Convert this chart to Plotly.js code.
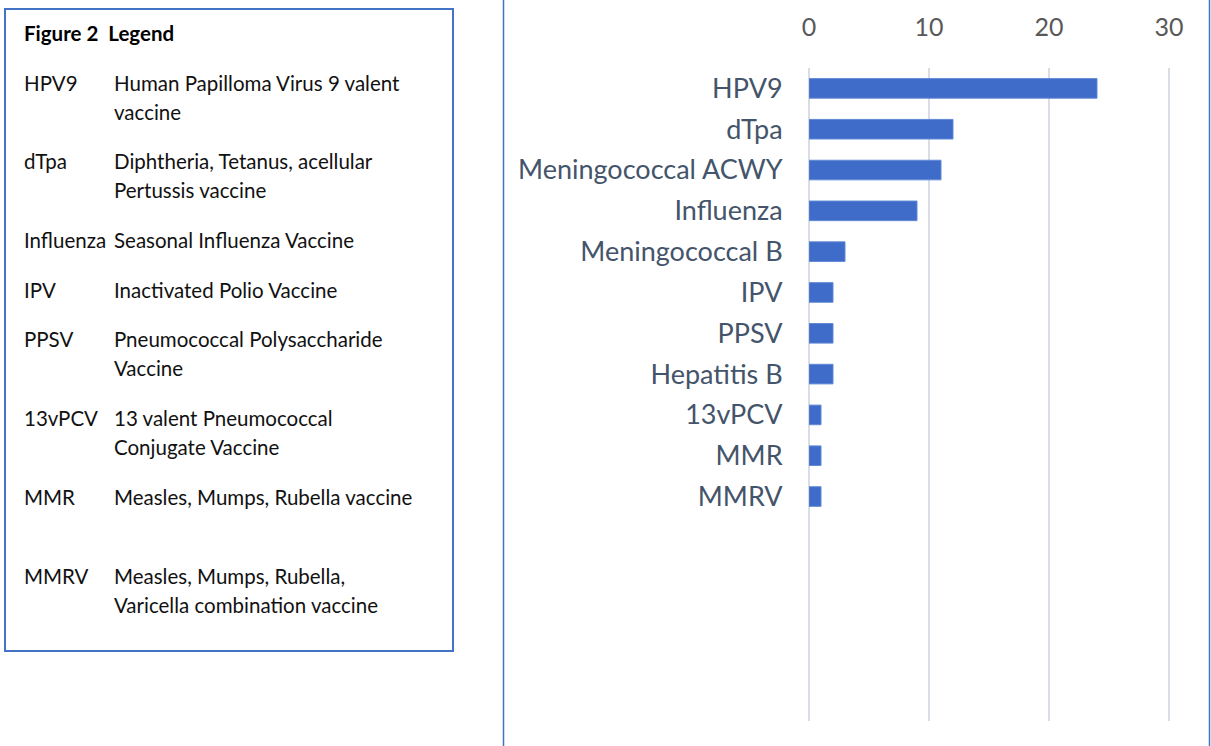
<!DOCTYPE html>
<html>
<head>
<meta charset="utf-8">
<script src="https://cdn.plot.ly/plotly-3.0.1.min.js"></script>
<style>
html,body{margin:0;padding:0;background:#fff;}
#chart{width:1211px;height:746px;}
</style>
</head>
<body>
<div id="chart"></div>
<script>
// ---- data ----
var vaccines = ["HPV9","dTpa","Meningococcal ACWY","Influenza","Meningococcal B","IPV","PPSV","Hepatitis B","13vPCV","MMR","MMRV"];
var counts = [24, 12, 11, 9, 3, 2, 2, 2, 1, 1, 1];
var xTicks = [0, 10, 20, 30];
var legendTitle = "Figure 2  Legend";
var legendAbbr = ["HPV9","dTpa","Influenza","IPV","PPSV","13vPCV","MMR","MMRV"];
var legendDesc = [
  ["Human Papilloma Virus 9 valent","vaccine"],
  ["Diphtheria, Tetanus, acellular","Pertussis vaccine"],
  ["Seasonal Influenza Vaccine"],
  ["Inactivated Polio Vaccine"],
  ["Pneumococcal Polysaccharide","Vaccine"],
  ["13 valent Pneumococcal","Conjugate Vaccine"],
  ["Measles, Mumps, Rubella vaccine"],
  ["Measles, Mumps, Rubella,","Varicella combination vaccine"]
];

// ---- layout geometry (pixels) ----
var W = 1211, H = 746;
var L = 809, R = 30, T = 68, B = 746 - 721;
var PW = W - L - R, PH = H - T - B;
function px(x){ return (x - L) / PW; }
function py(y){ return 1 - (y - T) / PH; }

var rowY = [83, 161, 240, 290, 339, 418, 497, 576];
var lineGap = 29;
var font = "Lato, 'Open Sans', sans-serif";

var annotations = [];
annotations.push({xref:'paper', yref:'paper', x:px(22), y:py(33), xanchor:'left', yanchor:'middle',
  text:'<b>'+legendTitle+'</b>', showarrow:false, font:{family:font, size:20.5, color:'#000'}});
legendAbbr.forEach(function(a, i){
  annotations.push({xref:'paper', yref:'paper', x:px(22), y:py(rowY[i]), xanchor:'left', yanchor:'middle',
    text:a, showarrow:false, font:{family:font, size:20.5, color:'#111'}});
  legendDesc[i].forEach(function(t, j){
    annotations.push({xref:'paper', yref:'paper', x:px(112), y:py(rowY[i] + j*lineGap), xanchor:'left', yanchor:'middle',
      text:t, showarrow:false, font:{family:font, size:20.5, color:'#111'}});
  });
});

var shapes = [
  {type:'rect', xref:'paper', yref:'paper', x0:px(5), x1:px(453), y0:py(9), y1:py(651),
   line:{color:'#4472C4', width:2}, fillcolor:'rgba(0,0,0,0)', layer:'above'},
  {type:'line', xref:'paper', yref:'paper', x0:px(503.5), x1:px(503.5), y0:py(0), y1:py(746),
   line:{color:'#4472C4', width:1.5}},
  {type:'line', xref:'paper', yref:'paper', x0:px(1209.5), x1:px(1209.5), y0:py(0), y1:py(746),
   line:{color:'#4472C4', width:1.5}}
];

var trace = {
  type:'bar', orientation:'h',
  x: counts, y: vaccines,
  marker:{color:'#3F6BC9', line:{color:'#6189D6', width:1}},
  hoverinfo:'x+y'
};

var layout = {
  width:W, height:H,
  margin:{l:L, r:R, t:T, b:B, pad:0},
  paper_bgcolor:'#fff', plot_bgcolor:'#fff',
  showlegend:false,
  bargap:0.52,
  xaxis:{side:'top', range:[0, 31], tickvals:xTicks, ticktext:xTicks.map(String),
    showgrid:true, gridcolor:'#D9DEE6', gridwidth:1.5, zeroline:true, zerolinecolor:'#D9DEE6', zerolinewidth:1.5,
    showline:false, ticks:'outside', ticklen:21, tickcolor:'rgba(0,0,0,0)',
    tickfont:{family:font, size:25, color:'#595959'}, fixedrange:true},
  yaxis:{type:'category', categoryorder:'array', categoryarray:vaccines,
    range:[15.5, -0.5], showgrid:false, zeroline:false, showline:false,
    ticks:'outside', ticklen:20, tickcolor:'rgba(0,0,0,0)',
    tickfont:{family:font, size:27, color:'#44546A'}, fixedrange:true},
  annotations:annotations,
  shapes:shapes
};

Plotly.newPlot('chart', [trace], layout, {displayModeBar:false, staticPlot:true});
</script>
</body>
</html>
